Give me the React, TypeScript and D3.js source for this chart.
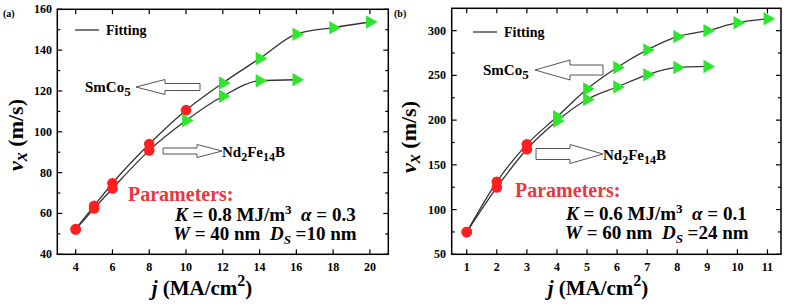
import React from 'react';
import * as d3 from 'd3';

// ---------- data ----------
// panel (a)
const aSmJ = [4, 5, 6, 8, 10, 12, 14, 16, 18, 20];
const aSmV = [52.4, 63.7, 74.8, 94, 110.6, 123.9, 135.9, 147.8, 151, 153.8];
const aSmMarker = ['c', 'c', 'c', 'c', 'c', 't', 't', 't', 't', 't'];
const aNdJ = [4, 5, 6, 8, 10, 12, 14, 16];
const aNdV = [52.2, 62.4, 72.2, 90.9, 105.5, 117.4, 125, 125.5];
const aNdMarker = ['c', 'c', 'c', 'c', 't', 't', 't', 't'];
const aXTicks = [4, 6, 8, 10, 12, 14, 16, 18, 20];
const aYTicks = [40, 60, 80, 100, 120, 140, 160];
const aYMinor = [50, 70, 90, 110, 130, 150];

// panel (b)
const bSmJ = [1, 2, 3, 4, 5, 6, 7, 8, 9, 10, 11];
const bSmV = [74.8, 131, 172.9, 203.7, 234.8, 258.9, 278.5, 293.3, 300, 308.9, 313.3];
const bSmMarker = ['c', 'c', 'c', 't', 't', 't', 't', 't', 't', 't', 't'];
const bNdJ = [1, 2, 3, 4, 5, 6, 7, 8, 9];
const bNdV = [74.8, 124.8, 167.4, 198.9, 223, 237, 250.7, 258.9, 260];
const bNdMarker = ['c', 'c', 'c', 't', 't', 't', 't', 't', 't'];
const bXTicks = [1, 2, 3, 4, 5, 6, 7, 8, 9, 10, 11];
const bYTicks = [50, 100, 150, 200, 250, 300];
const bYMinor = [75, 125, 175, 225, 275];

const FONT = "'Times New Roman', 'Liberation Serif', serif";
const RED = '#ff1f1f';
const GREEN = '#2ee62e';
const PARAM_RED = '#e8383f';
const LINE = '#333';

type Series = { j: number[]; v: number[]; m: string[] };

type PanelProps = {
  label: string;
  left: number; right: number; top: number; bottom: number;
  xDomain: [number, number]; yDomain: [number, number];
  xTicks: number[]; yTicks: number[]; yMinor: number[];
  series: Series[];
  yLabelRight: number;
  yTitleX: number; yTitleY: number; xTitleX: number;
  labelX: number;
  legendX: number; legendY: number;
  smX: number; smY: number; smArrow: number[];
  ndX: number; ndY: number; ndArrow: number[];
  parX: number; parY: number; kX: number; kY: number; wX: number; wY: number;
  kVal: string; alphaVal: string; wVal: string; dVal: string;
};

function arrowPath(tip: number, base: number, tail: number, cy: number, hh: number, sh: number) {
  return `M${tip},${cy}L${base},${cy - hh}L${base},${cy - sh}L${tail},${cy - sh}L${tail},${cy + sh}L${base},${cy + sh}L${base},${cy + hh}Z`;
}

function T(props: any) {
  return <text fontFamily={FONT} fontWeight="bold" {...props} />;
}

function Panel(p: PanelProps) {
  const x = d3.scaleLinear().domain(p.xDomain).range([p.left, p.right]);
  const y = d3.scaleLinear().domain(p.yDomain).range([p.bottom, p.top]);
  const line = d3.line<[number, number]>().x(d => x(d[0])).y(d => y(d[1])).curve(d3.curveMonotoneX);
  const tri = d3.symbol().type(d3.symbolTriangle).size(78)();
  const maj = 5, mnr = 3;
  return (
    <g>
      <T x={p.labelX} y={17} fontSize={10}>{p.label}</T>
      {p.series.map((s, i) => (
        <path key={'l' + i} d={line(s.j.map((jj, k) => [jj, s.v[k]] as [number, number])) || ''} fill="none" stroke={LINE} strokeWidth={1.3} />
      ))}
      {p.series.map((s, i) => s.j.map((jj, k) => s.m[k] === 'c' ? (
        <circle key={`c${i}-${k}`} cx={x(jj)} cy={y(s.v[k])} r={5.3} fill={RED} />
      ) : (
        <path key={`t${i}-${k}`} d={tri} transform={`translate(${x(jj)},${y(s.v[k])}) rotate(90)`} fill={GREEN} />
      )))}
      <rect x={p.left} y={p.top} width={p.right - p.left} height={p.bottom - p.top} fill="none" stroke="#000" strokeWidth={1.5} />
      {p.xTicks.map(t => (
        <g key={'xt' + t}>
          <line x1={x(t)} x2={x(t)} y1={p.bottom} y2={p.bottom - maj} stroke="#000" strokeWidth={1.2} />
          <line x1={x(t)} x2={x(t)} y1={p.top} y2={p.top + maj} stroke="#000" strokeWidth={1.2} />
          <T x={x(t)} y={p.bottom + 17} fontSize={12} textAnchor="middle">{t}</T>
        </g>
      ))}
      {p.yTicks.map(t => (
        <g key={'yt' + t}>
          <line x1={p.left} x2={p.left + maj} y1={y(t)} y2={y(t)} stroke="#000" strokeWidth={1.2} />
          <line x1={p.right} x2={p.right - maj} y1={y(t)} y2={y(t)} stroke="#000" strokeWidth={1.2} />
          <T x={p.yLabelRight} y={y(t) + 4} fontSize={12} textAnchor="end">{t}</T>
        </g>
      ))}
      {p.yMinor.map(t => (
        <g key={'ym' + t}>
          <line x1={p.left} x2={p.left + mnr} y1={y(t)} y2={y(t)} stroke="#000" strokeWidth={1.2} />
          <line x1={p.right} x2={p.right - mnr} y1={y(t)} y2={y(t)} stroke="#000" strokeWidth={1.2} />
        </g>
      ))}
      <T x={p.xTitleX} y={295} fontSize={21} textAnchor="middle">
        <tspan fontStyle="italic">j</tspan>{'\u00a0(MA/cm'}<tspan dy={-9} fontSize={16}>2</tspan><tspan dy={9}>)</tspan>
      </T>
      <T transform={`translate(${p.yTitleX},${p.yTitleY}) rotate(-90)`} fontSize={22} textAnchor="middle">
        <tspan fontStyle="italic">v</tspan><tspan fontStyle="italic" dy={4} fontSize={18}>x</tspan><tspan dy={-4}>{'\u00a0(m/s)'}</tspan>
      </T>
      <line x1={p.legendX} x2={p.legendX + 24} y1={p.legendY} y2={p.legendY} stroke={LINE} strokeWidth={1.3} />
      <T x={p.legendX + 31} y={p.legendY + 5} fontSize={14}>Fitting</T>
      <path d={arrowPath(p.smArrow[0], p.smArrow[1], p.smArrow[2], p.smArrow[3], p.smArrow[4], p.smArrow[5])} fill="#fff" stroke="#555" strokeWidth={1} />
      <path d={arrowPath(p.ndArrow[0], p.ndArrow[1], p.ndArrow[2], p.ndArrow[3], p.ndArrow[4], p.ndArrow[5])} fill="#fff" stroke="#555" strokeWidth={1} />
      <T x={p.smX} y={p.smY} fontSize={15}>SmCo<tspan dy={4} fontSize={13}>5</tspan></T>
      <T x={p.ndX} y={p.ndY} fontSize={15}>Nd<tspan dy={4} fontSize={12}>2</tspan><tspan dy={-4}>Fe</tspan><tspan dy={4} fontSize={12}>14</tspan><tspan dy={-4}>B</tspan></T>
      <T x={p.parX} y={p.parY} fontSize={20} fill={PARAM_RED}>Parameters:</T>
      <T x={p.kX} y={p.kY} fontSize={19}>
        <tspan fontStyle="italic">K</tspan>{` = ${p.kVal} MJ/m`}<tspan dy={-7} fontSize={13}>3</tspan><tspan dy={7}>{'\u00a0\u00a0'}</tspan><tspan fontStyle="italic">α</tspan>{` = ${p.alphaVal}`}
      </T>
      <T x={p.wX} y={p.wY} fontSize={19}>
        <tspan fontStyle="italic">W</tspan>{` = ${p.wVal} nm\u00a0\u00a0`}<tspan fontStyle="italic">D</tspan><tspan fontStyle="italic" dy={4} fontSize={13}>S</tspan><tspan dy={-4}>{` =${p.dVal} nm`}</tspan>
      </T>
    </g>
  );
}

export default function App() {
  return (
    <svg width={787} height={306} style={{ position: 'absolute', left: 0, top: 0, background: '#fff' }}>
      <rect width={787} height={306} fill="#fff" />
      <Panel
        label="(a)" left={57.3} right={388.3} top={9.3} bottom={254.3}
        xDomain={[3, 21]} yDomain={[40, 160]}
        xTicks={aXTicks} yTicks={aYTicks} yMinor={aYMinor}
        series={[{ j: aSmJ, v: aSmV, m: aSmMarker }, { j: aNdJ, v: aNdV, m: aNdMarker }]}
        yLabelRight={52} yTitleX={23} yTitleY={135} xTitleX={202} labelX={3}
        legendX={75} legendY={30}
        smX={85} smY={92} smArrow={[136, 165, 200, 87, 7.5, 3.5]}
        ndX={222} ndY={157} ndArrow={[222, 197, 163, 151, 6.5, 3]}
        parX={128} parY={201} kX={175} kY={221} wX={173} wY={240}
        kVal="0.8" alphaVal="0.3" wVal="40" dVal="10"
      />
      <Panel
        label="(b)" left={451.7} right={781} top={8.3} bottom={254.3}
        xDomain={[0.5, 11.45]} yDomain={[50, 325]}
        xTicks={bXTicks} yTicks={bYTicks} yMinor={bYMinor}
        series={[{ j: bSmJ, v: bSmV, m: bSmMarker }, { j: bNdJ, v: bNdV, m: bNdMarker }]}
        yLabelRight={446} yTitleX={416} yTitleY={137} xTitleX={598} labelX={394}
        legendX={473} legendY={32}
        smX={483} smY={75} smArrow={[535, 570, 603, 70, 10, 5]}
        ndX={603} ndY={160} ndArrow={[603, 570, 536, 154, 9.5, 5.5]}
        parX={515} parY={197} kX={566} kY={220} wX={565} wY={239}
        kVal="0.6" alphaVal="0.1" wVal="60" dVal="24"
      />
    </svg>
  );
}
